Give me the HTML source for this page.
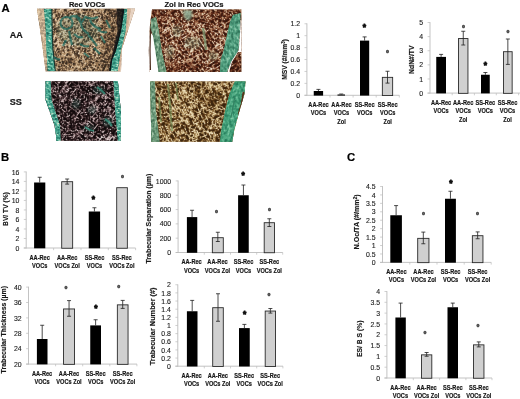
<!DOCTYPE html>
<html lang="en"><head><meta charset="utf-8"><title>Figure</title>
<style>html,body{margin:0;padding:0;background:#fff;overflow:hidden}svg{display:block}</style>
</head><body>
<svg width="520" height="399" viewBox="0 0 520 399" font-family='"Liberation Sans", Arial, sans-serif'>
<rect width="520" height="399" fill="#fff"/>
<g font-weight="bold" fill="#000" stroke="#000" stroke-width="0.2">
<text x="1.6" y="11.7" font-size="11.3">A</text>
<text x="1.1" y="160.8" font-size="11.3">B</text>
<text x="346.9" y="160.8" font-size="11.3">C</text>
</g>
<g font-weight="bold" fill="#161616" stroke="#161616" stroke-width="0.2" text-anchor="middle">
<text x="87.1" y="6.5" font-size="7.5">Rec VOCs</text>
<text x="194" y="6.5" font-size="7.6">Zol in Rec VOCs</text>
<text x="16.3" y="38.2" font-size="9">AA</text>
<text x="15.8" y="105.3" font-size="9.1">SS</text>
</g>
<defs>
<filter id="b3" x="-20%" y="-20%" width="140%" height="140%"><feGaussianBlur stdDeviation="0.35"/></filter>
<filter id="b6" x="-20%" y="-20%" width="140%" height="140%"><feGaussianBlur stdDeviation="0.7"/></filter>
<filter id="b10" x="-30%" y="-30%" width="160%" height="160%"><feGaussianBlur stdDeviation="1.1"/></filter>
<filter id="b15" x="-30%" y="-30%" width="160%" height="160%"><feGaussianBlur stdDeviation="1.8"/></filter>
<filter id="n1" x="0" y="0" width="100%" height="100%" color-interpolation-filters="sRGB"><feTurbulence type="turbulence" baseFrequency="0.36 0.32" numOctaves="2" seed="4"/><feColorMatrix type="matrix" values="1 0 0 0 0 1 0 0 0 0 1 0 0 0 0 0 0 0 0 1" result="g"/><feComposite in="g" in2="SourceGraphic" operator="arithmetic" k1="0" k2="1" k3="-0.3" k4="0.15"/><feComponentTransfer><feFuncR type="table" tableValues="0.973 0.933 0.894 0.842 0.737 0.632 0.485 0.343 0.296 0.250 0.204 0.158 0.149 0.149 0.149 0.149 0.149 0.149 0.149 0.149 0.149"/><feFuncG type="table" tableValues="0.933 0.869 0.804 0.729 0.610 0.491 0.368 0.249 0.216 0.183 0.150 0.116 0.110 0.110 0.110 0.110 0.110 0.110 0.110 0.110 0.110"/><feFuncB type="table" tableValues="0.863 0.770 0.678 0.580 0.461 0.342 0.262 0.187 0.163 0.139 0.115 0.091 0.086 0.086 0.086 0.086 0.086 0.086 0.086 0.086 0.086"/></feComponentTransfer><feGaussianBlur stdDeviation="0.3"/></filter>
<filter id="n2" x="0" y="0" width="100%" height="100%" color-interpolation-filters="sRGB"><feTurbulence type="turbulence" baseFrequency="0.31 0.28" numOctaves="2" seed="11"/><feColorMatrix type="matrix" values="1 0 0 0 0 1 0 0 0 0 1 0 0 0 0 0 0 0 0 1" result="g"/><feComposite in="g" in2="SourceGraphic" operator="arithmetic" k1="0" k2="1" k3="-0.3" k4="0.15"/><feComponentTransfer><feFuncR type="table" tableValues="1.000 0.971 0.942 0.861 0.717 0.550 0.367 0.324 0.286 0.248 0.210 0.172 0.149 0.149 0.149 0.149 0.149 0.149 0.149 0.149 0.149"/><feFuncG type="table" tableValues="0.980 0.934 0.888 0.761 0.532 0.331 0.147 0.125 0.108 0.091 0.074 0.057 0.047 0.047 0.047 0.047 0.047 0.047 0.047 0.047 0.047"/><feFuncB type="table" tableValues="0.941 0.861 0.781 0.633 0.401 0.226 0.091 0.077 0.067 0.057 0.047 0.037 0.031 0.031 0.031 0.031 0.031 0.031 0.031 0.031 0.031"/></feComponentTransfer><feGaussianBlur stdDeviation="0.3"/></filter>
<filter id="n3" x="0" y="0" width="100%" height="100%" color-interpolation-filters="sRGB"><feTurbulence type="turbulence" baseFrequency="0.32 0.29" numOctaves="2" seed="23"/><feColorMatrix type="matrix" values="1 0 0 0 0 1 0 0 0 0 1 0 0 0 0 0 0 0 0 1" result="g"/><feComposite in="g" in2="SourceGraphic" operator="arithmetic" k1="0" k2="1" k3="-0.3" k4="0.15"/><feComponentTransfer><feFuncR type="table" tableValues="1.000 0.949 0.898 0.658 0.382 0.207 0.130 0.113 0.095 0.078 0.060 0.043 0.039 0.039 0.039 0.039 0.039 0.039 0.039 0.039 0.039"/><feFuncG type="table" tableValues="0.965 0.884 0.804 0.552 0.279 0.139 0.079 0.068 0.056 0.045 0.033 0.022 0.020 0.020 0.020 0.020 0.020 0.020 0.020 0.020 0.020"/><feFuncB type="table" tableValues="0.965 0.884 0.804 0.560 0.294 0.149 0.087 0.074 0.062 0.050 0.038 0.026 0.024 0.024 0.024 0.024 0.024 0.024 0.024 0.024 0.024"/></feComponentTransfer><feGaussianBlur stdDeviation="0.3"/></filter>
<filter id="n4" x="0" y="0" width="100%" height="100%" color-interpolation-filters="sRGB"><feTurbulence type="turbulence" baseFrequency="0.3 0.27" numOctaves="2" seed="31"/><feColorMatrix type="matrix" values="1 0 0 0 0 1 0 0 0 0 1 0 0 0 0 0 0 0 0 1" result="g"/><feComposite in="g" in2="SourceGraphic" operator="arithmetic" k1="0" k2="1" k3="-0.3" k4="0.15"/><feComponentTransfer><feFuncR type="table" tableValues="1.000 0.972 0.944 0.857 0.665 0.484 0.320 0.287 0.255 0.222 0.189 0.157 0.157 0.157 0.157 0.157 0.157 0.157 0.157 0.157 0.157"/><feFuncG type="table" tableValues="0.980 0.936 0.891 0.776 0.535 0.340 0.183 0.164 0.144 0.125 0.106 0.086 0.086 0.086 0.086 0.086 0.086 0.086 0.086 0.086 0.086"/><feFuncB type="table" tableValues="0.894 0.814 0.734 0.591 0.337 0.171 0.070 0.061 0.051 0.042 0.033 0.024 0.024 0.024 0.024 0.024 0.024 0.024 0.024 0.024 0.024"/></feComponentTransfer><feGaussianBlur stdDeviation="0.3"/></filter>
<filter id="ng" x="0" y="0" width="100%" height="100%" color-interpolation-filters="sRGB"><feTurbulence type="fractalNoise" baseFrequency="0.35 0.6" numOctaves="2" seed="7"/><feColorMatrix type="matrix" values="1 0 0 0 0 1 0 0 0 0 1 0 0 0 0 0 0 0 0 1" result="g"/><feComponentTransfer><feFuncR type="table" tableValues="0.122 0.122 0.122 0.122 0.122 0.130 0.170 0.210 0.281 0.400 0.537 0.722 0.878 0.878 0.878 0.878 0.878"/><feFuncG type="table" tableValues="0.416 0.416 0.416 0.416 0.416 0.430 0.503 0.575 0.651 0.733 0.805 0.854 0.894 0.894 0.894 0.894 0.894"/><feFuncB type="table" tableValues="0.369 0.369 0.369 0.369 0.369 0.380 0.439 0.497 0.563 0.641 0.711 0.759 0.800 0.800 0.800 0.800 0.800"/></feComponentTransfer></filter>
<filter id="ng2" x="0" y="0" width="100%" height="100%" color-interpolation-filters="sRGB"><feTurbulence type="fractalNoise" baseFrequency="0.5 0.3" numOctaves="2" seed="9"/><feColorMatrix type="matrix" values="1 0 0 0 0 1 0 0 0 0 1 0 0 0 0 0 0 0 0 1" result="g"/><feComponentTransfer><feFuncR type="table" tableValues="0.239 0.239 0.239 0.239 0.239 0.266 0.318 0.371 0.423 0.490 0.562 0.634 0.706 0.706 0.706 0.706 0.706"/><feFuncG type="table" tableValues="0.416 0.416 0.416 0.416 0.416 0.443 0.495 0.547 0.599 0.655 0.711 0.767 0.824 0.824 0.824 0.824 0.824"/><feFuncB type="table" tableValues="0.314 0.314 0.314 0.314 0.314 0.338 0.383 0.429 0.475 0.534 0.596 0.659 0.722 0.722 0.722 0.722 0.722"/></feComponentTransfer></filter>
<filter id="ng3" x="0" y="0" width="100%" height="100%" color-interpolation-filters="sRGB"><feTurbulence type="fractalNoise" baseFrequency="0.45 0.3" numOctaves="2" seed="19"/><feColorMatrix type="matrix" values="1 0 0 0 0 1 0 0 0 0 1 0 0 0 0 0 0 0 0 1" result="g"/><feComponentTransfer><feFuncR type="table" tableValues="0.141 0.141 0.141 0.141 0.141 0.160 0.195 0.231 0.266 0.320 0.381 0.441 0.502 0.502 0.502 0.502 0.502"/><feFuncG type="table" tableValues="0.478 0.478 0.478 0.478 0.478 0.501 0.545 0.589 0.633 0.675 0.717 0.758 0.800 0.800 0.800 0.800 0.800"/><feFuncB type="table" tableValues="0.353 0.353 0.353 0.353 0.353 0.371 0.407 0.442 0.478 0.521 0.567 0.613 0.659 0.659 0.659 0.659 0.659"/></feComponentTransfer></filter>
<filter id="ng4" x="0" y="0" width="100%" height="100%" color-interpolation-filters="sRGB"><feTurbulence type="fractalNoise" baseFrequency="0.45 0.3" numOctaves="2" seed="29"/><feColorMatrix type="matrix" values="1 0 0 0 0 1 0 0 0 0 1 0 0 0 0 0 0 0 0 1" result="g"/><feComponentTransfer><feFuncR type="table" tableValues="0.184 0.184 0.184 0.184 0.184 0.203 0.240 0.276 0.313 0.372 0.439 0.506 0.573 0.573 0.573 0.573 0.573"/><feFuncG type="table" tableValues="0.447 0.447 0.447 0.447 0.447 0.472 0.520 0.568 0.616 0.662 0.708 0.754 0.800 0.800 0.800 0.800 0.800"/><feFuncB type="table" tableValues="0.345 0.345 0.345 0.345 0.345 0.367 0.409 0.450 0.492 0.540 0.590 0.640 0.690 0.690 0.690 0.690 0.690"/></feComponentTransfer></filter>
<clipPath id="c1"><polygon points="37,8.8 135,8.8 128,30 121.5,50 121,71.3 45.6,71.3 43,50 40,29"/></clipPath>
<clipPath id="c2"><polygon points="152,9.4 241.3,9.4 241.3,72 149.4,72 148.8,50 150,25"/></clipPath>
<clipPath id="c3"><polygon points="45.6,81.3 117.9,81.3 121,112 120.7,140.8 56.3,140.8 56.3,137 54.4,125 50,112.5 45.6,100"/></clipPath>
<clipPath id="c4"><polygon points="150.3,81.6 245.5,81.6 244.5,94 239,112.6 234,131.4 232.3,141.7 151.3,141.7"/></clipPath>
<clipPath id="k1"><polygon points="44,8.8 51.7,8.8 52,35 52.7,50 55.2,71.3 47.8,71.3 46.4,50 45.6,27"/></clipPath>
<clipPath id="k2"><polygon points="124.4,8.8 127.2,8.8 125.6,31 121,50 117.5,71.3 110.6,71.3 112,60 116,50 121,31"/></clipPath>
<clipPath id="k3"><polygon points="151,19 156,17 158.8,30 161.6,50 166.5,72 158.5,72 155.2,50 153,36 150.5,28"/></clipPath>
<clipPath id="k4"><polygon points="233,15 240.5,13 240,31 238.5,50 234,58 231,62 227,72 220,72 220.6,60 223.8,50 227,35 230,22"/></clipPath>
<clipPath id="k5"><polygon points="45,81 50.6,81 51.5,100 55.6,112.5 60,125 60.6,141 56,141 54.4,125 50,112.5 45,100"/></clipPath>
<clipPath id="k6"><polygon points="113.5,81 118.5,81 121.5,112 121,141 117.9,141 115.4,112.6"/></clipPath>
<clipPath id="k7"><polygon points="150,81 155,81 155.8,110 159.7,142 150,142"/></clipPath>
<clipPath id="k8"><polygon points="235,81 246,81 244.5,94 239,112.6 234,131.4 232.5,142 220,142 221,131.4 224.8,112.6 229.5,94"/></clipPath>
</defs>
<g clip-path="url(#c1)">
<rect x="36" y="8" width="100" height="64" fill="#a88560"/>
<g filter="url(#n1)" transform="rotate(27 86 40)"><rect x="11" y="-35" width="150" height="150" fill="#808080"/><g transform="rotate(-27 86 40)" filter="url(#b15)"><polygon points="100,6 124,6 112,74 98,74 103,40" fill="#4a4a4a"/><ellipse cx="80" cy="62" rx="22" ry="9" fill="#6c6c6c"/><ellipse cx="66" cy="40" rx="10" ry="10" fill="#969696"/><ellipse cx="90" cy="14" rx="12" ry="4" fill="#909090"/></g></g>
<ellipse cx="78" cy="30" rx="22" ry="16" fill="#2f7f70" opacity="0.16" filter="url(#b15)"/>
<polygon points="36,8 44,8 46,40 47,72 36,72" fill="#ecd4b4" opacity="0.6" filter="url(#b6)"/>
<polygon points="127,8 136,8 136,72 117.5,72 121,50 125.6,31" fill="#dfbca2" opacity="0.85" filter="url(#b3)"/>
<polygon points="131,8 137,8 137,72 120,72 122,50 128,31" fill="#fff" opacity="0.4" filter="url(#b6)"/>
<polygon points="116.5,8 124.4,8 121,31 116,50 111,71 109.3,71 113.3,50 117.5,31" fill="#141218" opacity="0.8" filter="url(#b6)"/>
<g clip-path="url(#k1)">
<polygon points="44,8.8 51.7,8.8 52,35 52.7,50 55.2,71.3 47.8,71.3 46.4,50 45.6,27" fill="#3fa184"/>
<rect x="-1.3" y="-10.8" width="101.8" height="101.8" filter="url(#ng)" transform="rotate(8 49.6 40.0)"/>
</g>
<g clip-path="url(#k2)">
<polygon points="124.4,8.8 127.2,8.8 125.6,31 121,50 117.5,71.3 110.6,71.3 112,60 116,50 121,31" fill="#46b090"/>
<rect x="68.0" y="-10.8" width="101.8" height="101.8" filter="url(#ng)" transform="rotate(-12 118.9 40.0)"/>
</g>
<path d="M51.8 9 L52.3 35 L53 50 L55.3 71" stroke="#14342f" stroke-width="1.1" fill="none" filter="url(#b3)"/>
<path d="M123.6 9 L120.4 31 L115.4 50 L111.4 60 L110 71" stroke="#0c1418" stroke-width="1.6" fill="none" filter="url(#b3)"/>
<g stroke="#1d6a60" stroke-width="2.1" fill="none" opacity="0.72" filter="url(#b6)">
<path d="M60.5 23a6 6 0 1 1 12 0a6 6 0 1 1 -12 0M70 17c4 -2 8 0 11 3M76 15l5 8 5 -7M86 17c4 2 8 2 12 0M90 20c2 5 6 8 11 9M81 24c1 5 4 8 8 10M69 31c1 5 2 10 3 14M74 34c3 3 6 4 9 3M88 35c3 3 6 7 9 11M98 30c3 2 6 3 9 2M101 36l4 7M66 40l-3 6M80 44c3 2 6 3 9 2M106 20l4 8M94 48l6 6M54 57c2 2 4 3 6 2M84 53l5 4"/>
</g>
</g>
<g clip-path="url(#c2)">
<rect x="148" y="9" width="95" height="64" fill="#8d5a30"/>
<g filter="url(#n2)" transform="rotate(-33 196 41)"><rect x="120" y="-34" width="150" height="150" fill="#808080"/><g transform="rotate(33 196 41)" filter="url(#b15)"><ellipse cx="160" cy="14" rx="12" ry="7" fill="#505050"/><ellipse cx="215" cy="16" rx="16" ry="8" fill="#505050"/><ellipse cx="238" cy="14" rx="6" ry="8" fill="#404040"/><ellipse cx="185" cy="68" rx="22" ry="6" fill="#585858"/><ellipse cx="236" cy="62" rx="6" ry="11" fill="#303030"/><ellipse cx="168" cy="66" rx="5" ry="7" fill="#404040"/><ellipse cx="192" cy="42" rx="18" ry="12" fill="#9c9c9c"/><ellipse cx="172" cy="36" rx="8" ry="10" fill="#929292"/></g></g>
<polygon points="148,30 153.5,36 156,50 158.8,72 148,72" fill="#fff" filter="url(#b3)"/>
<path d="M150.6 24 L150 50 L150.4 70" stroke="#4a2a1a" stroke-width="1.2" fill="none" filter="url(#b3)"/>
<g clip-path="url(#k3)">
<polygon points="151,19 156,17 158.8,30 161.6,50 166.5,72 158.5,72 155.2,50 153,36 150.5,28" fill="#6f9c7c"/>
<rect x="113.2" y="-0.8" width="90.5" height="90.5" filter="url(#ng2)" transform="rotate(10 158.5 44.5)"/>
</g>
<polygon points="183,10 192,10 192.5,16 189,21 184,18" fill="#86a890" opacity="0.8" filter="url(#b10)"/>
<g fill="#86a888" opacity="0.3" filter="url(#b15)"><ellipse cx="193" cy="43" rx="9" ry="6"/><ellipse cx="177" cy="31" rx="5" ry="6"/><ellipse cx="170" cy="52" rx="4" ry="7"/><ellipse cx="213" cy="56" rx="5" ry="5"/></g>
<path d="M203 28 L205 40 L206 50" stroke="#7a9a72" stroke-width="2.5" fill="none" opacity="0.7" filter="url(#b6)"/>
<g clip-path="url(#k4)">
<polygon points="233,15 240.5,13 240,31 238.5,50 234,58 231,62 227,72 220,72 220.6,60 223.8,50 227,35 230,22" fill="#52a080"/>
<rect x="182.0" y="-5.8" width="96.5" height="96.5" filter="url(#ng4)" transform="rotate(-15 230.2 42.5)"/>
</g>
<polygon points="240.6,20 243,20 243,52 238,52 232,62 229,72 227.5,72 231.5,61 238.8,50 240.2,31" fill="#fff" filter="url(#b3)"/>
</g>
<g clip-path="url(#c3)">
<rect x="45" y="81" width="78" height="61" fill="#33201f"/>
<g filter="url(#n3)" transform="rotate(38 84 112)"><rect x="9" y="36" width="150" height="150" fill="#808080"/><g transform="rotate(-38 84 112)" filter="url(#b15)"><ellipse cx="104" cy="139" rx="12" ry="3.5" fill="#d0d0d0"/><ellipse cx="70" cy="92" rx="10" ry="8" fill="#747474"/><ellipse cx="100" cy="105" rx="10" ry="8" fill="#767676"/><ellipse cx="85" cy="118" rx="10" ry="7" fill="#8c8c8c"/></g></g>
<g fill="#2f8a78" opacity="0.22" filter="url(#b15)"><ellipse cx="99" cy="90" rx="6" ry="4"/><ellipse cx="108" cy="122" rx="5" ry="5"/><ellipse cx="89" cy="128" rx="6" ry="3"/><ellipse cx="76" cy="104" rx="4" ry="5"/><ellipse cx="92" cy="110" rx="4" ry="4"/></g>
<g stroke="#3a9a84" fill="none" opacity="0.75" filter="url(#b6)">
<path d="M97 87 l4 3 4 4" stroke-width="2"/><path d="M105 119 l4 3 3 4" stroke-width="2.2"/><path d="M85 127 l5 3 4 1" stroke-width="1.8"/>
</g>
<g clip-path="url(#k5)">
<polygon points="45,81 50.6,81 51.5,100 55.6,112.5 60,125 60.6,141 56,141 54.4,125 50,112.5 45,100" fill="#44a88c"/>
<rect x="3.8" y="62.0" width="98.0" height="98.0" filter="url(#ng)" transform="rotate(15 52.8 111.0)"/>
</g>
<g clip-path="url(#k6)">
<polygon points="113.5,81 118.5,81 121.5,112 121,141 117.9,141 115.4,112.6" fill="#44a88c"/>
<rect x="68.5" y="62.0" width="98.0" height="98.0" filter="url(#ng)" transform="rotate(-5 117.5 111.0)"/>
</g>
</g>
<g clip-path="url(#c4)">
<rect x="150" y="81" width="97" height="62" fill="#9a7434"/>
<g filter="url(#n4)" transform="rotate(-24 198 112)"><rect x="123" y="37" width="150" height="150" fill="#808080"/><g transform="rotate(24 198 112)" filter="url(#b15)"><ellipse cx="212" cy="98" rx="12" ry="10" fill="#646464"/><ellipse cx="166" cy="90" rx="10" ry="7" fill="#6c6c6c"/><ellipse cx="200" cy="132" rx="14" ry="7" fill="#949494"/><ellipse cx="185" cy="108" rx="10" ry="8" fill="#8c8c8c"/></g></g>
<g stroke="#6f8f58" fill="none" opacity="0.6" filter="url(#b6)">
<path d="M168 84 L170 105 L172 131" stroke-width="2.2"/><path d="M159 97 L161 122" stroke-width="1.8"/><path d="M176 83 L178 100" stroke-width="1.6"/>
</g>
<g clip-path="url(#k7)">
<polygon points="150,81 155,81 155.8,110 159.7,142 150,142" fill="#4f8565"/>
<rect x="105.1" y="61.8" width="99.5" height="99.5" filter="url(#ng2)" transform="rotate(5 154.8 111.5)"/>
</g>
<g clip-path="url(#k8)">
<polygon points="235,81 246,81 244.5,94 239,112.6 234,131.4 232.5,142 220,142 221,131.4 224.8,112.6 229.5,94" fill="#46a47c"/>
<rect x="183.2" y="61.8" width="99.5" height="99.5" filter="url(#ng3)" transform="rotate(20 233.0 111.5)"/>
</g>
<path d="M243.5 92 L241.5 104 L238.5 114" stroke="#5a2e14" stroke-width="1.6" fill="none" filter="url(#b3)"/>
<path d="M235 96 L231 118" stroke="#2f7a5c" stroke-width="1.2" fill="none" opacity="0.8" filter="url(#b3)"/>
</g>
<path d="M306.9 23.35V95.70M304.5 95.3H399.4" stroke="#bcbcbc" stroke-width="0.9" fill="none"/>
<path d="M304.5 95.30H306.9M304.5 83.38H306.9M304.5 71.45H306.9M304.5 59.52H306.9M304.5 47.60H306.9M304.5 35.68H306.9M304.5 23.75H306.9M330.0 95.3v2.2M353.1 95.3v2.2M376.2 95.3v2.2M399.3 95.3v2.2" stroke="#bcbcbc" stroke-width="0.7" fill="none"/>
<g font-size="6.9" text-anchor="end" fill="#1c1c1c" stroke="#1c1c1c" stroke-width="0.12">
<text x="300.0" y="97.92">0</text>
<text x="300.0" y="86.00">0.2</text>
<text x="300.0" y="74.07">0.4</text>
<text x="300.0" y="62.15">0.6</text>
<text x="300.0" y="50.22">0.8</text>
<text x="300.0" y="38.30">1</text>
<text x="300.0" y="26.37">1.2</text>
</g>
<rect x="313.75" y="91.00" width="9.35" height="4.60" fill="#000"/>
<path d="M318.43 91.00V89.40M316.43 89.40H320.43" stroke="#1e1e1e" stroke-width="0.8" fill="none"/>
<rect x="337.50" y="94.50" width="7.50" height="1.10" fill="#000"/>
<path d="M341.25 94.50V94.00M339.25 94.00H343.25" stroke="#1e1e1e" stroke-width="0.8" fill="none"/>
<rect x="360.00" y="40.60" width="9.20" height="55.00" fill="#000"/>
<path d="M364.60 40.60V36.90M362.60 36.90H366.60" stroke="#1e1e1e" stroke-width="0.8" fill="none"/>
<rect x="382.35" y="77.35" width="10.30" height="18.20" fill="#d0d0d0" stroke="#2a2a2a" stroke-width="0.9"/>
<path d="M387.50 76.90V71.25M385.50 71.25H389.50M387.50 76.90V83.10M385.50 83.10H389.50" stroke="#1e1e1e" stroke-width="0.8" fill="none"/>
<g font-size="6.6" font-weight="bold" text-anchor="middle" fill="#161616" stroke="#161616" stroke-width="0.18">
<text x="318.50" y="106.90" textLength="20.3" lengthAdjust="spacingAndGlyphs">AA-Rec</text>
<text x="318.50" y="115.35" textLength="15.3" lengthAdjust="spacingAndGlyphs">VOCs</text>
<text x="341.50" y="106.90" textLength="20.3" lengthAdjust="spacingAndGlyphs">AA-Rec</text>
<text x="341.50" y="115.35" textLength="15.3" lengthAdjust="spacingAndGlyphs">VOCs</text>
<text x="341.50" y="123.80" textLength="8.4" lengthAdjust="spacingAndGlyphs">Zol</text>
<text x="364.70" y="106.90" textLength="19.7" lengthAdjust="spacingAndGlyphs">SS-Rec</text>
<text x="364.70" y="115.35" textLength="15.3" lengthAdjust="spacingAndGlyphs">VOCs</text>
<text x="387.70" y="106.90" textLength="19.7" lengthAdjust="spacingAndGlyphs">SS-Rec</text>
<text x="387.70" y="115.35" textLength="15.3" lengthAdjust="spacingAndGlyphs">VOCs</text>
<text x="387.70" y="123.80" textLength="8.4" lengthAdjust="spacingAndGlyphs">Zol</text>
</g>
<text transform="translate(287.3 59.50) rotate(-90)" font-size="6.9" font-weight="bold" text-anchor="middle" fill="#161616" stroke="#161616" stroke-width="0.15" textLength="40.6" lengthAdjust="spacingAndGlyphs">MSV (#/mm<tspan baseline-shift="super" font-size="4.5">3</tspan>)</text>
<text x="364.4" y="30.00" font-size="8.4" font-weight="bold" text-anchor="middle" fill="#111" stroke="#111" stroke-width="0.8">*</text>
<text x="387.5" y="55.95" font-size="7.4" font-weight="bold" text-anchor="middle" fill="#505050" stroke="#505050" stroke-width="0.8">°</text>
<path d="M430 22.10V93.50M427.6 93.1H520" stroke="#bcbcbc" stroke-width="0.9" fill="none"/>
<path d="M427.6 93.10H430M427.6 78.98H430M427.6 64.86H430M427.6 50.74H430M427.6 36.62H430M427.6 22.50H430M452.2 93.1v2.2M474.4 93.1v2.2M496.3 93.1v2.2M518.6 93.1v2.2" stroke="#bcbcbc" stroke-width="0.7" fill="none"/>
<g font-size="6.9" text-anchor="end" fill="#1c1c1c" stroke="#1c1c1c" stroke-width="0.12">
<text x="423.1" y="95.72">0</text>
<text x="423.1" y="81.60">1</text>
<text x="423.1" y="67.48">2</text>
<text x="423.1" y="53.36">3</text>
<text x="423.1" y="39.24">4</text>
<text x="423.1" y="25.12">5</text>
</g>
<rect x="436.25" y="56.90" width="9.75" height="36.50" fill="#000"/>
<path d="M441.12 56.90V54.40M439.12 54.40H443.12" stroke="#1e1e1e" stroke-width="0.8" fill="none"/>
<rect x="458.55" y="38.55" width="9.40" height="54.80" fill="#d0d0d0" stroke="#2a2a2a" stroke-width="0.9"/>
<path d="M463.25 38.10V31.25M461.25 31.25H465.25M463.25 38.10V45.00M461.25 45.00H465.25" stroke="#1e1e1e" stroke-width="0.8" fill="none"/>
<rect x="481.00" y="74.75" width="8.75" height="18.65" fill="#000"/>
<path d="M485.38 74.75V72.50M483.38 72.50H487.38" stroke="#1e1e1e" stroke-width="0.8" fill="none"/>
<rect x="503.55" y="51.70" width="8.60" height="41.65" fill="#d0d0d0" stroke="#2a2a2a" stroke-width="0.9"/>
<path d="M507.85 51.25V39.00M505.85 39.00H509.85M507.85 51.25V64.40M505.85 64.40H509.85" stroke="#1e1e1e" stroke-width="0.8" fill="none"/>
<g font-size="6.6" font-weight="bold" text-anchor="middle" fill="#161616" stroke="#161616" stroke-width="0.18">
<text x="441.10" y="104.70" textLength="20.3" lengthAdjust="spacingAndGlyphs">AA-Rec</text>
<text x="441.10" y="113.15" textLength="15.3" lengthAdjust="spacingAndGlyphs">VOCs</text>
<text x="463.20" y="104.70" textLength="20.3" lengthAdjust="spacingAndGlyphs">AA-Rec</text>
<text x="463.20" y="113.15" textLength="15.3" lengthAdjust="spacingAndGlyphs">VOCs</text>
<text x="463.20" y="121.60" textLength="8.4" lengthAdjust="spacingAndGlyphs">Zol</text>
<text x="485.30" y="104.70" textLength="19.7" lengthAdjust="spacingAndGlyphs">SS-Rec</text>
<text x="485.30" y="113.15" textLength="15.3" lengthAdjust="spacingAndGlyphs">VOCs</text>
<text x="507.50" y="104.70" textLength="19.7" lengthAdjust="spacingAndGlyphs">SS-Rec</text>
<text x="507.50" y="113.15" textLength="15.3" lengthAdjust="spacingAndGlyphs">VOCs</text>
<text x="507.50" y="121.60" textLength="8.4" lengthAdjust="spacingAndGlyphs">Zol</text>
</g>
<text transform="translate(414.0 59.70) rotate(-90)" font-size="6.9" font-weight="bold" text-anchor="middle" fill="#161616" stroke="#161616" stroke-width="0.15" textLength="28.6" lengthAdjust="spacingAndGlyphs">NdN#/TV</text>
<text x="463.5" y="30.70" font-size="7.4" font-weight="bold" text-anchor="middle" fill="#505050" stroke="#505050" stroke-width="0.8">°</text>
<text x="485.4" y="67.75" font-size="8.4" font-weight="bold" text-anchor="middle" fill="#111" stroke="#111" stroke-width="0.8">*</text>
<text x="507.9" y="35.70" font-size="7.4" font-weight="bold" text-anchor="middle" fill="#505050" stroke="#505050" stroke-width="0.8">°</text>
<path d="M26.2 171.50V248.40M23.8 248H135.6" stroke="#bcbcbc" stroke-width="0.9" fill="none"/>
<path d="M23.8 248.00H26.2M23.8 238.49H26.2M23.8 228.97H26.2M23.8 219.46H26.2M23.8 209.95H26.2M23.8 200.44H26.2M23.8 190.93H26.2M23.8 181.41H26.2M23.8 171.90H26.2M53.6 248v2.2M81.0 248v2.2M108.3 248v2.2M135.6 248v2.2" stroke="#bcbcbc" stroke-width="0.7" fill="none"/>
<g font-size="6.9" text-anchor="end" fill="#1c1c1c" stroke="#1c1c1c" stroke-width="0.12">
<text x="19.3" y="250.62">0</text>
<text x="19.3" y="241.11">2</text>
<text x="19.3" y="231.60">4</text>
<text x="19.3" y="222.08">6</text>
<text x="19.3" y="212.57">8</text>
<text x="19.3" y="203.06">10</text>
<text x="19.3" y="193.55">12</text>
<text x="19.3" y="184.03">14</text>
<text x="19.3" y="174.52">16</text>
</g>
<rect x="34.10" y="182.50" width="11.20" height="65.80" fill="#000"/>
<path d="M39.70 182.50V177.25M37.70 177.25H41.70" stroke="#1e1e1e" stroke-width="0.8" fill="none"/>
<rect x="61.70" y="181.70" width="10.95" height="66.55" fill="#d0d0d0" stroke="#2a2a2a" stroke-width="0.9"/>
<path d="M67.17 181.25V179.00M65.17 179.00H69.17M67.17 181.25V184.10M65.17 184.10H69.17" stroke="#1e1e1e" stroke-width="0.8" fill="none"/>
<rect x="88.75" y="211.50" width="11.35" height="36.80" fill="#000"/>
<path d="M94.42 211.50V207.75M92.42 207.75H96.42" stroke="#1e1e1e" stroke-width="0.8" fill="none"/>
<rect x="116.70" y="187.70" width="10.65" height="60.55" fill="#d0d0d0" stroke="#2a2a2a" stroke-width="0.9"/>
<g font-size="6.6" font-weight="bold" text-anchor="middle" fill="#161616" stroke="#161616" stroke-width="0.18">
<text x="39.70" y="260.00" textLength="20.3" lengthAdjust="spacingAndGlyphs">AA-Rec</text>
<text x="39.70" y="268.45" textLength="15.3" lengthAdjust="spacingAndGlyphs">VOCs</text>
<text x="67.20" y="260.00" textLength="20.3" lengthAdjust="spacingAndGlyphs">AA-Rec</text>
<text x="67.20" y="268.45" textLength="25.3" lengthAdjust="spacingAndGlyphs">VOCs Zol</text>
<text x="94.50" y="260.00" textLength="19.7" lengthAdjust="spacingAndGlyphs">SS-Rec</text>
<text x="94.50" y="268.45" textLength="15.3" lengthAdjust="spacingAndGlyphs">VOCs</text>
<text x="121.90" y="260.00" textLength="19.7" lengthAdjust="spacingAndGlyphs">SS-Rec</text>
<text x="121.90" y="268.45" textLength="25.3" lengthAdjust="spacingAndGlyphs">VOCs Zol</text>
</g>
<text transform="translate(7.8 209.05) rotate(-90)" font-size="6.9" font-weight="bold" text-anchor="middle" fill="#161616" stroke="#161616" stroke-width="0.15" textLength="33.7" lengthAdjust="spacingAndGlyphs">BV/ TV (%)</text>
<text x="93.4" y="201.75" font-size="8.4" font-weight="bold" text-anchor="middle" fill="#111" stroke="#111" stroke-width="0.8">*</text>
<text x="122.5" y="181.35" font-size="7.4" font-weight="bold" text-anchor="middle" fill="#505050" stroke="#505050" stroke-width="0.8">°</text>
<path d="M178.1 180.50V252.90M175.7 252.5H282.75" stroke="#bcbcbc" stroke-width="0.9" fill="none"/>
<path d="M175.7 252.50H178.1M175.7 238.18H178.1M175.7 223.86H178.1M175.7 209.54H178.1M175.7 195.22H178.1M175.7 180.90H178.1M204.3 252.5v2.2M230.5 252.5v2.2M256.7 252.5v2.2M282.7 252.5v2.2" stroke="#bcbcbc" stroke-width="0.7" fill="none"/>
<g font-size="6.9" text-anchor="end" fill="#1c1c1c" stroke="#1c1c1c" stroke-width="0.12">
<text x="171.2" y="255.12">0</text>
<text x="171.2" y="240.80">200</text>
<text x="171.2" y="226.48">400</text>
<text x="171.2" y="212.16">600</text>
<text x="171.2" y="197.84">800</text>
<text x="171.2" y="183.52">1000</text>
</g>
<rect x="186.90" y="217.10" width="10.35" height="35.70" fill="#000"/>
<path d="M192.07 217.10V210.25M190.07 210.25H194.07" stroke="#1e1e1e" stroke-width="0.8" fill="none"/>
<rect x="212.35" y="237.70" width="10.95" height="15.05" fill="#d0d0d0" stroke="#2a2a2a" stroke-width="0.9"/>
<path d="M217.82 237.25V232.25M215.82 232.25H219.82M217.82 237.25V241.50M215.82 241.50H219.82" stroke="#1e1e1e" stroke-width="0.8" fill="none"/>
<rect x="238.10" y="195.25" width="10.65" height="57.55" fill="#000"/>
<path d="M243.43 195.25V185.00M241.43 185.00H245.43" stroke="#1e1e1e" stroke-width="0.8" fill="none"/>
<rect x="264.20" y="222.70" width="10.25" height="30.05" fill="#d0d0d0" stroke="#2a2a2a" stroke-width="0.9"/>
<path d="M269.32 222.25V218.75M267.32 218.75H271.32M269.32 222.25V226.50M267.32 226.50H271.32" stroke="#1e1e1e" stroke-width="0.8" fill="none"/>
<g font-size="6.6" font-weight="bold" text-anchor="middle" fill="#161616" stroke="#161616" stroke-width="0.18">
<text x="191.60" y="264.20" textLength="20.3" lengthAdjust="spacingAndGlyphs">AA-Rec</text>
<text x="191.60" y="272.65" textLength="15.3" lengthAdjust="spacingAndGlyphs">VOCs</text>
<text x="217.50" y="264.20" textLength="20.3" lengthAdjust="spacingAndGlyphs">AA-Rec</text>
<text x="217.50" y="272.65" textLength="25.3" lengthAdjust="spacingAndGlyphs">VOCs Zol</text>
<text x="243.50" y="264.20" textLength="19.7" lengthAdjust="spacingAndGlyphs">SS-Rec</text>
<text x="243.50" y="272.65" textLength="15.3" lengthAdjust="spacingAndGlyphs">VOCs</text>
<text x="269.30" y="264.20" textLength="19.7" lengthAdjust="spacingAndGlyphs">SS-Rec</text>
<text x="269.30" y="272.65" textLength="25.3" lengthAdjust="spacingAndGlyphs">VOCs Zol</text>
</g>
<text transform="translate(151.3 218.62) rotate(-90)" font-size="6.9" font-weight="bold" text-anchor="middle" fill="#161616" stroke="#161616" stroke-width="0.15" textLength="89.8" lengthAdjust="spacingAndGlyphs">Trabecular Separation (µm)</text>
<text x="216.5" y="216.35" font-size="7.4" font-weight="bold" text-anchor="middle" fill="#505050" stroke="#505050" stroke-width="0.8">°</text>
<text x="243.1" y="177.75" font-size="8.4" font-weight="bold" text-anchor="middle" fill="#111" stroke="#111" stroke-width="0.8">*</text>
<text x="269.4" y="213.85" font-size="7.4" font-weight="bold" text-anchor="middle" fill="#505050" stroke="#505050" stroke-width="0.8">°</text>
<path d="M28.5 286.70V364.50M26.1 364.1H137" stroke="#bcbcbc" stroke-width="0.9" fill="none"/>
<path d="M26.1 364.10H28.5M26.1 348.70H28.5M26.1 333.30H28.5M26.1 317.90H28.5M26.1 302.50H28.5M26.1 287.10H28.5M55.6 364.1v2.2M82.7 364.1v2.2M109.8 364.1v2.2M136.9 364.1v2.2" stroke="#bcbcbc" stroke-width="0.7" fill="none"/>
<g font-size="6.9" text-anchor="end" fill="#1c1c1c" stroke="#1c1c1c" stroke-width="0.12">
<text x="21.6" y="366.72">20</text>
<text x="21.6" y="351.32">24</text>
<text x="21.6" y="335.92">28</text>
<text x="21.6" y="320.52">32</text>
<text x="21.6" y="305.12">36</text>
<text x="21.6" y="289.72">40</text>
</g>
<rect x="36.90" y="339.00" width="10.60" height="25.40" fill="#000"/>
<path d="M42.20 339.00V325.25M40.20 325.25H44.20" stroke="#1e1e1e" stroke-width="0.8" fill="none"/>
<rect x="63.55" y="308.95" width="11.00" height="55.40" fill="#d0d0d0" stroke="#2a2a2a" stroke-width="0.9"/>
<path d="M69.05 308.50V300.60M67.05 300.60H71.05M69.05 308.50V316.25M67.05 316.25H71.05" stroke="#1e1e1e" stroke-width="0.8" fill="none"/>
<rect x="90.25" y="325.40" width="10.75" height="39.00" fill="#000"/>
<path d="M95.62 325.40V319.75M93.62 319.75H97.62" stroke="#1e1e1e" stroke-width="0.8" fill="none"/>
<rect x="117.35" y="304.85" width="10.70" height="59.50" fill="#d0d0d0" stroke="#2a2a2a" stroke-width="0.9"/>
<path d="M122.70 304.40V300.40M120.70 300.40H124.70M122.70 304.40V308.40M120.70 308.40H124.70" stroke="#1e1e1e" stroke-width="0.8" fill="none"/>
<g font-size="6.6" font-weight="bold" text-anchor="middle" fill="#161616" stroke="#161616" stroke-width="0.18">
<text x="42.10" y="375.60" textLength="20.3" lengthAdjust="spacingAndGlyphs">AA-Rec</text>
<text x="42.10" y="384.05" textLength="15.3" lengthAdjust="spacingAndGlyphs">VOCs</text>
<text x="69.00" y="375.60" textLength="20.3" lengthAdjust="spacingAndGlyphs">AA-Rec</text>
<text x="69.00" y="384.05" textLength="25.3" lengthAdjust="spacingAndGlyphs">VOCs Zol</text>
<text x="95.70" y="375.60" textLength="19.7" lengthAdjust="spacingAndGlyphs">SS-Rec</text>
<text x="95.70" y="384.05" textLength="15.3" lengthAdjust="spacingAndGlyphs">VOCs</text>
<text x="122.70" y="375.60" textLength="19.7" lengthAdjust="spacingAndGlyphs">SS-Rec</text>
<text x="122.70" y="384.05" textLength="25.3" lengthAdjust="spacingAndGlyphs">VOCs Zol</text>
</g>
<text transform="translate(6.2 329.70) rotate(-90)" font-size="6.9" font-weight="bold" text-anchor="middle" fill="#161616" stroke="#161616" stroke-width="0.15" textLength="87.4" lengthAdjust="spacingAndGlyphs">Trabecular Thickness (µm)</text>
<text x="66" y="291.70" font-size="7.4" font-weight="bold" text-anchor="middle" fill="#505050" stroke="#505050" stroke-width="0.8">°</text>
<text x="95.8" y="311.40" font-size="8.4" font-weight="bold" text-anchor="middle" fill="#111" stroke="#111" stroke-width="0.8">*</text>
<text x="118.75" y="290.95" font-size="7.4" font-weight="bold" text-anchor="middle" fill="#505050" stroke="#505050" stroke-width="0.8">°</text>
<path d="M177.8 284.35V366.60M175.4 366.2H283" stroke="#bcbcbc" stroke-width="0.9" fill="none"/>
<path d="M175.4 366.20H177.8M175.4 358.06H177.8M175.4 349.91H177.8M175.4 341.76H177.8M175.4 333.62H177.8M175.4 325.48H177.8M175.4 317.33H177.8M175.4 309.19H177.8M175.4 301.04H177.8M175.4 292.89H177.8M175.4 284.75H177.8M204.3 366.2v2.2M230.5 366.2v2.2M256.7 366.2v2.2M282.9 366.2v2.2" stroke="#bcbcbc" stroke-width="0.7" fill="none"/>
<g font-size="6.9" text-anchor="end" fill="#1c1c1c" stroke="#1c1c1c" stroke-width="0.12">
<text x="170.9" y="368.82">0</text>
<text x="170.9" y="360.68">0.2</text>
<text x="170.9" y="352.53">0.4</text>
<text x="170.9" y="344.39">0.6</text>
<text x="170.9" y="336.24">0.8</text>
<text x="170.9" y="328.10">1</text>
<text x="170.9" y="319.95">1.2</text>
<text x="170.9" y="311.81">1.4</text>
<text x="170.9" y="303.66">1.6</text>
<text x="170.9" y="295.52">1.8</text>
<text x="170.9" y="287.37">2</text>
</g>
<rect x="186.90" y="311.25" width="10.60" height="55.25" fill="#000"/>
<path d="M192.20 311.25V300.40M190.20 300.40H194.20" stroke="#1e1e1e" stroke-width="0.8" fill="none"/>
<rect x="212.70" y="307.70" width="10.60" height="58.75" fill="#d0d0d0" stroke="#2a2a2a" stroke-width="0.9"/>
<path d="M218.00 307.25V293.75M216.00 293.75H220.00M218.00 307.25V321.25M216.00 321.25H220.00" stroke="#1e1e1e" stroke-width="0.8" fill="none"/>
<rect x="239.00" y="328.10" width="10.75" height="38.40" fill="#000"/>
<path d="M244.38 328.10V324.40M242.38 324.40H246.38" stroke="#1e1e1e" stroke-width="0.8" fill="none"/>
<rect x="265.20" y="311.05" width="10.35" height="55.40" fill="#d0d0d0" stroke="#2a2a2a" stroke-width="0.9"/>
<path d="M270.38 310.60V308.50M268.38 308.50H272.38M270.38 310.60V313.10M268.38 313.10H272.38" stroke="#1e1e1e" stroke-width="0.8" fill="none"/>
<g font-size="6.6" font-weight="bold" text-anchor="middle" fill="#161616" stroke="#161616" stroke-width="0.18">
<text x="191.60" y="377.75" textLength="20.3" lengthAdjust="spacingAndGlyphs">AA-Rec</text>
<text x="191.60" y="386.20" textLength="15.3" lengthAdjust="spacingAndGlyphs">VOCs</text>
<text x="217.80" y="377.75" textLength="20.3" lengthAdjust="spacingAndGlyphs">AA-Rec</text>
<text x="217.80" y="386.20" textLength="25.3" lengthAdjust="spacingAndGlyphs">VOCs Zol</text>
<text x="244.20" y="377.75" textLength="19.7" lengthAdjust="spacingAndGlyphs">SS-Rec</text>
<text x="244.20" y="386.20" textLength="15.3" lengthAdjust="spacingAndGlyphs">VOCs</text>
<text x="270.20" y="377.75" textLength="19.7" lengthAdjust="spacingAndGlyphs">SS-Rec</text>
<text x="270.20" y="386.20" textLength="25.3" lengthAdjust="spacingAndGlyphs">VOCs Zol</text>
</g>
<text transform="translate(155.2 326.38) rotate(-90)" font-size="6.9" font-weight="bold" text-anchor="middle" fill="#161616" stroke="#161616" stroke-width="0.15" textLength="77.8" lengthAdjust="spacingAndGlyphs">Trabecular Number (#)</text>
<text x="244.75" y="317.10" font-size="8.4" font-weight="bold" text-anchor="middle" fill="#111" stroke="#111" stroke-width="0.8">*</text>
<text x="269" y="298.55" font-size="7.4" font-weight="bold" text-anchor="middle" fill="#505050" stroke="#505050" stroke-width="0.8">°</text>
<path d="M382.5 186.10V262.80M380.1 262.4H491.25" stroke="#bcbcbc" stroke-width="0.9" fill="none"/>
<path d="M380.1 262.40H382.5M380.1 253.97H382.5M380.1 245.53H382.5M380.1 237.10H382.5M380.1 228.67H382.5M380.1 220.23H382.5M380.1 211.80H382.5M380.1 203.37H382.5M380.1 194.93H382.5M380.1 186.50H382.5M409.8 262.4v2.2M437.0 262.4v2.2M464.2 262.4v2.2M491.2 262.4v2.2" stroke="#bcbcbc" stroke-width="0.7" fill="none"/>
<g font-size="6.9" text-anchor="end" fill="#1c1c1c" stroke="#1c1c1c" stroke-width="0.12">
<text x="375.6" y="265.02">0</text>
<text x="375.6" y="256.59">0.5</text>
<text x="375.6" y="248.15">1</text>
<text x="375.6" y="239.72">1.5</text>
<text x="375.6" y="231.29">2</text>
<text x="375.6" y="222.85">2.5</text>
<text x="375.6" y="214.42">3</text>
<text x="375.6" y="205.99">3.5</text>
<text x="375.6" y="197.55">4</text>
<text x="375.6" y="189.12">4.5</text>
</g>
<rect x="390.30" y="215.25" width="11.60" height="47.45" fill="#000"/>
<path d="M396.10 215.25V205.60M394.10 205.60H398.10" stroke="#1e1e1e" stroke-width="0.8" fill="none"/>
<rect x="417.70" y="238.35" width="11.25" height="24.30" fill="#d0d0d0" stroke="#2a2a2a" stroke-width="0.9"/>
<path d="M423.32 237.90V232.10M421.32 232.10H425.32M423.32 237.90V243.75M421.32 243.75H425.32" stroke="#1e1e1e" stroke-width="0.8" fill="none"/>
<rect x="445.00" y="198.75" width="10.90" height="63.95" fill="#000"/>
<path d="M450.45 198.75V191.25M448.45 191.25H452.45" stroke="#1e1e1e" stroke-width="0.8" fill="none"/>
<rect x="472.35" y="235.70" width="10.60" height="26.95" fill="#d0d0d0" stroke="#2a2a2a" stroke-width="0.9"/>
<path d="M477.65 235.25V231.90M475.65 231.90H479.65M477.65 235.25V238.75M475.65 238.75H479.65" stroke="#1e1e1e" stroke-width="0.8" fill="none"/>
<g font-size="6.6" font-weight="bold" text-anchor="middle" fill="#161616" stroke="#161616" stroke-width="0.18">
<text x="396.40" y="273.75" textLength="20.3" lengthAdjust="spacingAndGlyphs">AA-Rec</text>
<text x="396.40" y="282.20" textLength="15.3" lengthAdjust="spacingAndGlyphs">VOCs</text>
<text x="423.50" y="273.75" textLength="20.3" lengthAdjust="spacingAndGlyphs">AA-Rec</text>
<text x="423.50" y="282.20" textLength="25.3" lengthAdjust="spacingAndGlyphs">VOCs Zol</text>
<text x="450.60" y="273.75" textLength="19.7" lengthAdjust="spacingAndGlyphs">SS-Rec</text>
<text x="450.60" y="282.20" textLength="15.3" lengthAdjust="spacingAndGlyphs">VOCs</text>
<text x="477.60" y="273.75" textLength="19.7" lengthAdjust="spacingAndGlyphs">SS-Rec</text>
<text x="477.60" y="282.20" textLength="25.3" lengthAdjust="spacingAndGlyphs">VOCs Zol</text>
</g>
<text transform="translate(359.3 221.90) rotate(-90)" font-size="6.9" font-weight="bold" text-anchor="middle" fill="#161616" stroke="#161616" stroke-width="0.15" textLength="55.0" lengthAdjust="spacingAndGlyphs">N.Oc/TA (#/mm<tspan baseline-shift="super" font-size="4.5">2</tspan>)</text>
<text x="423.5" y="217.95" font-size="7.4" font-weight="bold" text-anchor="middle" fill="#505050" stroke="#505050" stroke-width="0.8">°</text>
<text x="450.9" y="185.50" font-size="8.4" font-weight="bold" text-anchor="middle" fill="#111" stroke="#111" stroke-width="0.8">*</text>
<text x="477.5" y="217.95" font-size="7.4" font-weight="bold" text-anchor="middle" fill="#505050" stroke="#505050" stroke-width="0.8">°</text>
<path d="M386.9 291.10V378.40M384.5 378H492" stroke="#bcbcbc" stroke-width="0.9" fill="none"/>
<path d="M384.5 378.00H386.9M384.5 367.19H386.9M384.5 356.38H386.9M384.5 345.56H386.9M384.5 334.75H386.9M384.5 323.94H386.9M384.5 313.12H386.9M384.5 302.31H386.9M384.5 291.50H386.9M413.3 378v2.2M439.6 378v2.2M465.9 378v2.2M492.0 378v2.2" stroke="#bcbcbc" stroke-width="0.7" fill="none"/>
<g font-size="6.9" text-anchor="end" fill="#1c1c1c" stroke="#1c1c1c" stroke-width="0.12">
<text x="380.0" y="380.62">0</text>
<text x="380.0" y="369.81">0.5</text>
<text x="380.0" y="359.00">1</text>
<text x="380.0" y="348.18">1.5</text>
<text x="380.0" y="337.37">2</text>
<text x="380.0" y="326.56">2.5</text>
<text x="380.0" y="315.75">3</text>
<text x="380.0" y="304.93">3.5</text>
<text x="380.0" y="294.12">4</text>
</g>
<rect x="395.40" y="317.50" width="10.40" height="60.80" fill="#000"/>
<path d="M400.60 317.50V303.10M398.60 303.10H402.60" stroke="#1e1e1e" stroke-width="0.8" fill="none"/>
<rect x="421.45" y="354.85" width="10.35" height="23.40" fill="#d0d0d0" stroke="#2a2a2a" stroke-width="0.9"/>
<path d="M426.62 354.40V352.50M424.62 352.50H428.62M426.62 354.40V356.25M424.62 356.25H428.62" stroke="#1e1e1e" stroke-width="0.8" fill="none"/>
<rect x="447.50" y="307.25" width="10.50" height="71.05" fill="#000"/>
<path d="M452.75 307.25V303.10M450.75 303.10H454.75" stroke="#1e1e1e" stroke-width="0.8" fill="none"/>
<rect x="473.55" y="344.85" width="10.40" height="33.40" fill="#d0d0d0" stroke="#2a2a2a" stroke-width="0.9"/>
<path d="M478.75 344.40V341.90M476.75 341.90H480.75M478.75 344.40V346.90M476.75 346.90H480.75" stroke="#1e1e1e" stroke-width="0.8" fill="none"/>
<g font-size="6.6" font-weight="bold" text-anchor="middle" fill="#161616" stroke="#161616" stroke-width="0.18">
<text x="400.40" y="389.70" textLength="20.3" lengthAdjust="spacingAndGlyphs">AA-Rec</text>
<text x="400.40" y="398.15" textLength="15.3" lengthAdjust="spacingAndGlyphs">VOCs</text>
<text x="426.60" y="389.70" textLength="20.3" lengthAdjust="spacingAndGlyphs">AA-Rec</text>
<text x="426.60" y="398.15" textLength="25.3" lengthAdjust="spacingAndGlyphs">VOCs Zol</text>
<text x="452.80" y="389.70" textLength="19.7" lengthAdjust="spacingAndGlyphs">SS-Rec</text>
<text x="452.80" y="398.15" textLength="15.3" lengthAdjust="spacingAndGlyphs">VOCs</text>
<text x="478.80" y="389.70" textLength="19.7" lengthAdjust="spacingAndGlyphs">SS-Rec</text>
<text x="478.80" y="398.15" textLength="25.3" lengthAdjust="spacingAndGlyphs">VOCs Zol</text>
</g>
<text transform="translate(361.6 338.75) rotate(-90)" font-size="6.9" font-weight="bold" text-anchor="middle" fill="#161616" stroke="#161616" stroke-width="0.15" textLength="36.3" lengthAdjust="spacingAndGlyphs">ES/ B S (%)</text>
<text x="425" y="336.70" font-size="7.4" font-weight="bold" text-anchor="middle" fill="#505050" stroke="#505050" stroke-width="0.8">°</text>
<text x="478.1" y="330.05" font-size="7.4" font-weight="bold" text-anchor="middle" fill="#505050" stroke="#505050" stroke-width="0.8">°</text>
</svg>
</body></html>
